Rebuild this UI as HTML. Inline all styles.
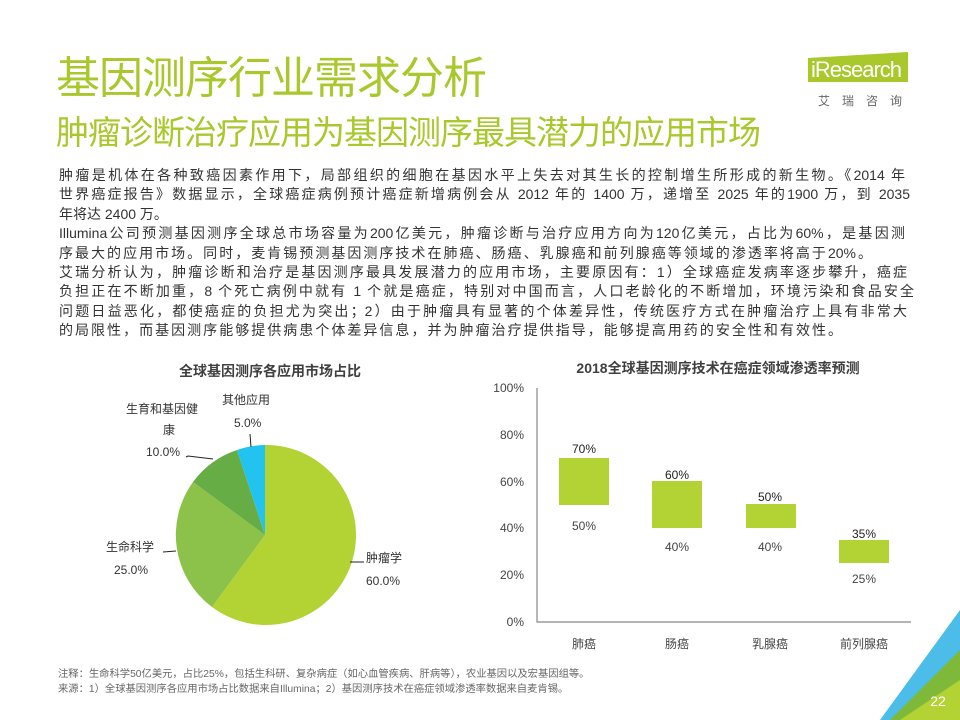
<!DOCTYPE html>
<html><head><meta charset="utf-8"><style>
body{margin:0;width:960px;height:720px;overflow:hidden;background:#fff;position:relative;font-family:"Liberation Sans","Noto Sans CJK SC",sans-serif;}
.a{position:absolute;white-space:nowrap}
.t1{left:56px;top:54px;font-size:44px;line-height:50px;color:#a8c82c;letter-spacing:-1px}
.t2{left:56px;top:114px;font-size:33px;line-height:38px;color:#a8c82c;letter-spacing:-1px}
.body{position:absolute;left:59px;top:166px;width:850px;font-size:14px;line-height:19.4px;color:#333;}
.body div{white-space:nowrap;text-align:justify;text-align-last:justify;height:19.4px}
.body div.n{text-align-last:left}
.ft{left:58px;font-size:10.3px;color:#666}
</style></head><body>
<div class="a t1">基因测序行业需求分析</div>
<div class="a t2">肿瘤诊断治疗应用为基因测序最具潜力的应用市场</div>
<div class="a" style="left:808px;top:52px;width:100px;height:30px;background:#a8c82c;clip-path:polygon(0 20%,100% 0,100% 100%,0 100%)"></div>
<div class="a" style="left:811px;top:57px;font-size:22px;color:#fff;letter-spacing:-1px">iResearch</div>
<div class="a" style="left:818px;top:92px;font-size:12px;color:#666;letter-spacing:12px">艾瑞咨询</div>
<div class="body">
<div style="width:846px">肿瘤是机体在各种致癌因素作用下，局部组织的细胞在基因水平上失去对其生长的控制增生所形成的新生物。《2014 年</div>
<div style="width:851px">世界癌症报告》数据显示，全球癌症病例预计癌症新增病例会从 2012 年的 1400 万，递增至 2025 年的1900 万，到 2035</div>
<div class="n">年将达 2400 万。</div>
<div style="width:846px">Illumina公司预测基因测序全球总市场容量为200亿美元，肿瘤诊断与治疗应用方向为120亿美元，占比为60%，是基因测</div>
<div style="width:813px">序最大的应用市场。同时，麦肯锡预测基因测序技术在肺癌、肠癌、乳腺癌和前列腺癌等领域的渗透率将高于20%。</div>
<div style="width:848px">艾瑞分析认为，肿瘤诊断和治疗是基因测序最具发展潜力的应用市场，主要原因有：1）全球癌症发病率逐步攀升，癌症</div>
<div style="width:855px">负担正在不断加重，8 个死亡病例中就有 1 个就是癌症，特别对中国而言，人口老龄化的不断增加，环境污染和食品安全</div>
<div style="width:848px">问题日益恶化，都使癌症的负担尤为突出；2）由于肿瘤具有显著的个体差异性，传统医疗方式在肿瘤治疗上具有非常大</div>
<div style="width:783px">的局限性，而基因测序能够提供病患个体差异信息，并为肿瘤治疗提供指导，能够提高用药的安全性和有效性。</div>
</div>
<svg class="a" style="left:0;top:0" width="960" height="720">
<g font-family="Liberation Sans,Noto Sans CJK SC,sans-serif" fill="#333">
<text x="270" y="376" font-size="14" font-weight="bold" text-anchor="middle" fill="#404040">全球基因测序各应用市场占比</text>
<path d="M265,535 L265,445 A90,90 0 1,1 212,607 Z" fill="#b3d234"/>
<path d="M265,535 L212,607 A90,90 0 0,1 193,482 Z" fill="#8cc14a"/>
<path d="M265,535 L193,482 A90,90 0 0,1 237,450 Z" fill="#67ad45"/>
<path d="M265,535 L237,450 A90,90 0 0,1 265,445 Z" fill="#22c3ee"/>
<g stroke="#222" fill="none" stroke-width="1"><path d="M350,562 L364,562"/><path d="M176,551 L163,552"/><path d="M213,459 L188,456 L186,457"/><path d="M251,447 L250,434"/></g>
<g font-size="12">
<text x="366" y="562">肿瘤学</text><text x="366" y="585">60.0%</text>
<text x="106" y="551">生命科学</text><text x="114" y="574">25.0%</text>
<text x="126" y="413">生育和基因健</text><text x="163" y="434">康</text><text x="146" y="456">10.0%</text>
<text x="222" y="404">其他应用</text><text x="234" y="427">5.0%</text>
</g>
<text x="718" y="373" font-size="14" font-weight="bold" text-anchor="middle" fill="#404040">2018全球基因测序技术在癌症领域渗透率预测</text>
<g stroke="#888" stroke-width="1.2" fill="none"><path d="M537,388 V622 H911"/></g>
<g font-size="12" text-anchor="end" fill="#444">
<text x="524" y="392">100%</text><text x="524" y="439">80%</text><text x="524" y="486">60%</text><text x="524" y="532">40%</text><text x="524" y="579">20%</text><text x="524" y="626">0%</text>
</g>
<g fill="#b3d234">
<rect x="559" y="458" width="50" height="47"/><rect x="652" y="481" width="50" height="47"/><rect x="746" y="504" width="50" height="24"/><rect x="839" y="540" width="50" height="23"/>
</g>
<g font-size="12" text-anchor="middle" fill="#222">
<text x="584" y="453">70%</text><text x="677" y="479">60%</text><text x="770" y="501">50%</text><text x="864" y="538">35%</text>
</g>
<g font-size="12" text-anchor="middle" fill="#444">
<text x="584" y="530">50%</text><text x="677" y="551">40%</text><text x="770" y="551">40%</text><text x="864" y="583">25%</text>
<text x="584" y="648">肺癌</text><text x="677" y="648">肠癌</text><text x="770" y="648">乳腺癌</text><text x="864" y="648">前列腺癌</text>
</g>
<polygon points="960,610 960,680 910,720 880,720" fill="#4bbde8"/>
<polygon points="960,650 960,720 890,720" fill="#7fb93a"/>
<polygon points="930,700 960,680 960,720 900,720" fill="#b3d234"/>
<text x="938" y="706" font-size="14" fill="#fff" text-anchor="middle">22</text>
</g></svg>
<div class="a ft" style="top:665px">注释：生命科学50亿美元，占比25%，包括生科研、复杂病症（如心血管疾病、肝病等），农业基因以及宏基因组等。</div>
<div class="a ft" style="top:680px">来源：1）全球基因测序各应用市场占比数据来自Illumina；2）基因测序技术在癌症领域渗透率数据来自麦肯锡。</div>
</body></html>
